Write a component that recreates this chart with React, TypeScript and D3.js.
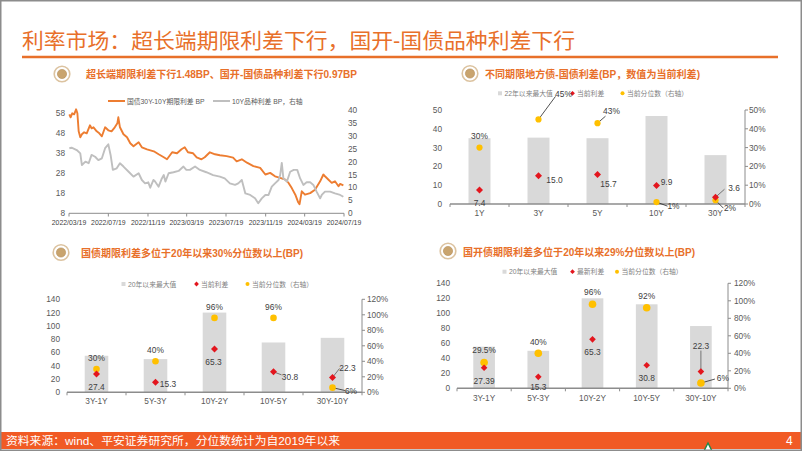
import React from 'react';
import * as d3 from 'd3';

// ---------------- Data ----------------
// Top-left: 国债30Y-10Y期限利差 (left axis) and 10Y品种利差 (right axis)
const termDates = ['2022-03-20','2022-03-24','2022-03-29','2022-04-04','2022-04-10','2022-04-14','2022-04-18','2022-04-23','2022-04-28','2022-05-05','2022-05-13','2022-05-23','2022-05-28','2022-06-03','2022-06-13','2022-06-21','2022-06-29','2022-07-09','2022-07-19','2022-07-29','2022-08-08','2022-08-16','2022-08-19','2022-08-24','2022-09-04','2022-09-15','2022-09-25','2022-10-05','2022-10-21','2022-10-31','2022-11-16','2022-12-07','2022-12-22','2023-01-07','2023-01-17','2023-02-02','2023-02-17','2023-03-03','2023-03-13','2023-03-23','2023-04-08','2023-04-19','2023-05-04','2023-05-14','2023-05-30','2023-06-15','2023-06-30','2023-07-21','2023-08-10','2023-08-21','2023-09-06','2023-09-22','2023-10-12','2023-11-02','2023-11-18','2023-12-03','2023-12-18','2024-01-03','2024-01-19','2024-01-29','2024-02-08','2024-02-19','2024-02-28','2024-03-03','2024-03-10','2024-03-20','2024-04-05','2024-04-20','2024-05-06','2024-05-16','2024-05-21','2024-06-01','2024-06-11','2024-06-21','2024-07-02','2024-07-07','2024-07-17'];
const termSpread = [57.5,56,58,57.5,60,58,49,46,47.5,48.5,48,52,50.5,51,49,48,46.5,51,49.5,49,51,53,56,51,47.5,46,43,41.5,43.5,41,40,39,37.5,36,35,38.5,38,40,41,38.5,38,36,35,36,38.5,37.5,37,36.6,35.8,34,35,33.3,31.6,30.7,27.4,28.2,26.5,25.7,24.8,23.2,20.6,17.3,13.5,12.5,19,17.3,18.1,19.8,24,27.4,26.5,24.8,23.2,24,21.5,22.7,22];

const varietyDates = ['2022-03-20','2022-03-27','2022-04-12','2022-04-23','2022-04-28','2022-05-09','2022-05-19','2022-05-28','2022-06-08','2022-06-18','2022-06-29','2022-07-09','2022-07-19','2022-07-26','2022-08-02','2022-08-14','2022-08-24','2022-09-04','2022-09-20','2022-10-05','2022-10-21','2022-10-31','2022-11-10','2022-11-20','2022-11-26','2022-12-06','2022-12-11','2022-12-22','2023-01-01','2023-01-07','2023-01-12','2023-01-22','2023-02-06','2023-02-22','2023-03-09','2023-03-18','2023-03-29','2023-04-14','2023-04-29','2023-05-19','2023-06-09','2023-06-30','2023-07-15','2023-07-31','2023-08-16','2023-08-26','2023-09-06','2023-09-17','2023-10-02','2023-10-17','2023-10-27','2023-11-07','2023-11-18','2023-11-28','2023-12-08','2023-12-18','2023-12-29','2024-01-03','2024-01-08','2024-01-13','2024-01-24','2024-02-03','2024-02-14','2024-02-25','2024-03-05','2024-03-15','2024-03-25','2024-04-05','2024-04-15','2024-04-25','2024-05-06','2024-05-11','2024-05-21','2024-06-06','2024-06-21','2024-07-07','2024-07-17'];
const varietySpread = [25.2,25.4,24.5,23.2,18.7,20,19.4,22.6,21.9,20.6,21.3,25.2,26.7,22.6,16.8,17.4,19.4,18.1,16.1,14.2,15.5,12.9,11.6,12,9.9,12.9,12.3,10.3,13.5,14.8,12.3,15.5,15.9,16.4,18.1,16.8,16.8,18.1,16.8,15.9,14.8,14.2,13.5,11.6,11,11.6,12.9,7.7,7.1,5.8,3.9,5.8,7.1,7.1,10.3,11.6,12.9,14.8,19.5,13.5,12.3,16.1,16.8,16.8,13.5,11,12,12,11,8.4,5.8,7.1,8.4,8.4,7.7,7.1,6.4];

const tlDateTicks = ['2022/03/19','2022/07/19','2022/11/19','2023/03/19','2023/07/19','2023/11/19','2024/03/19','2024/07/19'];
const tlLeftTicks = [8, 18, 28, 38, 48, 58];
const tlRightTicks = [0, 5, 10, 15, 20, 25, 30, 35, 40];

// Top-right: 地方债-国债利差
const lgCats = ['1Y', '3Y', '5Y', '10Y', '30Y'];
const lgMax = [35, 35.3, 35, 46.8, 26];
const lgCur = [7.4, 15.0, 15.7, 9.9, 3.6];
const lgPct = [30, 45, 43, 1, 2];

// Bottom-left: 国债期限利差
const tbCats = ['3Y-1Y', '5Y-3Y', '10Y-2Y', '10Y-5Y', '30Y-10Y'];
const tbMax = [55, 50, 120, 75, 82];
const tbCur = [27.4, 15.3, 65.3, 30.8, 22.3];
const tbPct = [30, 40, 96, 96, 6];

// Bottom-right: 国开债期限利差
const cdbCats = ['3Y-1Y', '5Y-3Y', '10Y-2Y', '10Y-5Y', '30Y-10Y'];
const cdbMax = [55.5, 50, 120, 112, 83];
const cdbCur = [27.39, 15.3, 65.3, 30.8, 22.3];
const cdbPct = [29.5, 40, 96, 92, 6];

// ---------------- Styles ----------------
const ORANGE = '#E8702A';
const LINE_OR = '#ED7D31';
const LINE_GR = '#BFBFBF';
const BAR = '#D9D9D9';
const RED = '#E3161E';
const YEL = '#FFC000';
const AX = '#8C8C8C';
const TXT = '#595959';
const LBL = '#404040';
const NUMF = "'Liberation Sans', Arial, 'Noto Sans CJK SC', sans-serif";
const CJKF = "'Liberation Sans', 'Noto Sans CJK SC', sans-serif";

const parse = d3.timeParse('%Y-%m-%d');
const parseTick = d3.timeParse('%Y/%m/%d');

type Lab = { dx: number; dy: number; lead?: [number, number] };

function Icon({ x, y }: { x: number; y: number }) {
  return (
    <g transform={`translate(${x},${y})`}>
      <circle r={7.8} fill="none" stroke="#DCC3A0" strokeWidth={1.6} />
      <circle r={4.6} fill="#C9A46E" stroke="#B48C55" strokeWidth={0.6} />
    </g>
  );
}

function LineChart() {
  const x = d3.scaleTime().domain([parse('2022-03-19')!, parse('2024-07-19')!]).range([69, 344]);
  const yL = d3.scaleLinear().domain([8, 60]).range([213.3, 109.3]);
  const yR = d3.scaleLinear().domain([0, 40]).range([213.3, 110]);
  const term = termDates.map((d, i) => ({ d: parse(d)!, v: termSpread[i] }));
  const vari = varietyDates.map((d, i) => ({ d: parse(d)!, v: varietySpread[i] }));
  const lineL = d3.line<{ d: Date; v: number }>().x(p => x(p.d)).y(p => yL(p.v));
  const lineR = d3.line<{ d: Date; v: number }>().x(p => x(p.d)).y(p => yR(p.v));
  return (
    <g>
      <Icon x={62} y={74} />
      <text x={86} y={74} dominantBaseline="central" fontSize={10.5} fontWeight={700} fill={ORANGE} fontFamily={CJKF} textLength={271} lengthAdjust="spacingAndGlyphs">超长端期限利差下行1.48BP、国开-国债品种利差下行0.97BP</text>
      {/* legend */}
      <line x1={108} x2={125} y1={101} y2={101} stroke={LINE_OR} strokeWidth={2} />
      <text x={127} y={101} dominantBaseline="central" fontSize={6.8} fill={TXT} fontFamily={CJKF}>国债30Y-10Y期限利差 BP</text>
      <line x1={213} x2={230} y1={101} y2={101} stroke={LINE_GR} strokeWidth={2} />
      <text x={232} y={101} dominantBaseline="central" fontSize={6.8} fill={TXT} fontFamily={CJKF}>10Y品种利差 BP，右轴</text>
      {tlLeftTicks.map(t => (
        <text key={'l' + t} x={65} y={yL(t)} textAnchor="end" dominantBaseline="central" fontSize={8.3} fill={TXT} fontFamily={NUMF}>{t}</text>
      ))}
      {tlRightTicks.map(t => (
        <text key={'r' + t} x={348} y={yR(t)} dominantBaseline="central" fontSize={8.3} fill={TXT} fontFamily={NUMF}>{t}</text>
      ))}
      <path d={lineL(term) || ''} fill="none" stroke={LINE_OR} strokeWidth={1.9} strokeLinejoin="round" />
      <path d={lineR(vari) || ''} fill="none" stroke={LINE_GR} strokeWidth={1.9} strokeLinejoin="round" />
      <line x1={69} x2={344} y1={213.3} y2={213.3} stroke={AX} strokeWidth={1} />
      {tlDateTicks.map(t => {
        const xx = x(parseTick(t)!);
        return (
          <g key={t}>
            <line x1={xx} x2={xx} y1={213.3} y2={216.5} stroke={AX} strokeWidth={1} />
            <text x={xx} y={222.5} textAnchor="middle" dominantBaseline="central" fontSize={6.9} fill={LBL} fontFamily={NUMF}>{t}</text>
          </g>
        );
      })}
    </g>
  );
}

type PanelProps = {
  cats: string[]; maxV: number[]; cur: number[]; pct: number[];
  x0: number; x1: number; yBase: number; yTop: number;
  leftMax: number; leftStep: number; rightMax: number; rightStep: number;
  pad: number; leftLabelX: number; rightLabelX: number; catLabelY: number;
  curFmt: (v: number) => string; curLabs: Lab[]; pctLabs: Lab[];
  dotR: number; diaR: number;
  legendY: number; legend: { x: number; text: string; kind: 'bar' | 'red' | 'yel' }[];
};

function Marker({ kind, x, y }: { kind: string; x: number; y: number }) {
  if (kind === 'bar') return <rect x={x - 2} y={y - 2} width={4} height={4} fill={BAR} />;
  if (kind === 'red') return <path d={`M${x},${y - 2.4}L${x + 2.4},${y}L${x},${y + 2.4}L${x - 2.4},${y}Z`} fill={RED} />;
  return <circle cx={x} cy={y} r={2} fill={YEL} />;
}

function BarPanel(p: PanelProps) {
  const band = d3.scaleBand().domain(p.cats).range([p.x0, p.x1]).paddingInner(p.pad).paddingOuter(p.pad / 2);
  const step = band.step();
  const yL = d3.scaleLinear().domain([0, p.leftMax]).range([p.yBase, p.yTop]);
  const yR = d3.scaleLinear().domain([0, p.rightMax]).range([p.yBase, p.yTop]);
  const cx = (c: string) => (band(c) || 0) + band.bandwidth() / 2;
  const lt = d3.range(0, p.leftMax + 0.001, p.leftStep);
  const rt = d3.range(0, p.rightMax + 0.001, p.rightStep);
  const d = p.diaR;
  return (
    <g>
      {p.legend.map((l, i) => (
        <g key={i}>
          <Marker kind={l.kind} x={l.x} y={p.legendY} />
          <text x={l.x + 4.5} y={p.legendY} dominantBaseline="central" fontSize={6.8} fill="#7F7F7F" fontFamily={CJKF}>{l.text}</text>
        </g>
      ))}
      {lt.map(t => (
        <text key={'l' + t} x={p.leftLabelX} y={yL(t)} textAnchor="end" dominantBaseline="central" fontSize={8.3} fill={TXT} fontFamily={NUMF}>{t}</text>
      ))}
      {rt.map(t => (
        <g key={'r' + t}>
          <line x1={p.x1} x2={p.x1 + 3} y1={yR(t)} y2={yR(t)} stroke={AX} strokeWidth={1} />
          <text x={p.rightLabelX} y={yR(t)} dominantBaseline="central" fontSize={8.3} fill={TXT} fontFamily={NUMF}>{t + '%'}</text>
        </g>
      ))}
      <line x1={p.x1} x2={p.x1} y1={p.yTop} y2={p.yBase} stroke={AX} strokeWidth={1} />
      {p.cats.map((c, i) => (
        <rect key={c} x={band(c)} y={yL(p.maxV[i])} width={band.bandwidth()} height={p.yBase - yL(p.maxV[i])} fill={BAR} />
      ))}
      <line x1={p.x0} x2={p.x1} y1={p.yBase} y2={p.yBase} stroke={AX} strokeWidth={1.4} />
      {d3.range(0, p.cats.length + 1).map(i => (
        <line key={'t' + i} x1={p.x0 + i * step} x2={p.x0 + i * step} y1={p.yBase} y2={p.yBase + 3} stroke={AX} strokeWidth={1} />
      ))}
      {p.cats.map(c => (
        <text key={'c' + c} x={cx(c)} y={p.catLabelY} textAnchor="middle" dominantBaseline="central" fontSize={8.3} fill={TXT} fontFamily={NUMF}>{c}</text>
      ))}
      {/* leader lines */}
      {p.cats.map((c, i) => {
        const out = [];
        const lc = p.curLabs[i], lp = p.pctLabs[i];
        if (lc.lead) out.push(<line key={'lc' + c} x1={cx(c)} y1={yL(p.cur[i])} x2={cx(c) + lc.lead[0]} y2={yL(p.cur[i]) + lc.lead[1]} stroke="#595959" strokeWidth={0.8} />);
        if (lp.lead) out.push(<line key={'lp' + c} x1={cx(c)} y1={yR(p.pct[i])} x2={cx(c) + lp.lead[0]} y2={yR(p.pct[i]) + lp.lead[1]} stroke="#262626" strokeWidth={0.8} />);
        return out;
      })}
      {p.cats.map((c, i) => (
        <circle key={'y' + c} cx={cx(c)} cy={yR(p.pct[i])} r={p.dotR} fill={YEL} />
      ))}
      {p.cats.map((c, i) => {
        const X = cx(c), Y = yL(p.cur[i]);
        return <path key={'d' + c} d={`M${X},${Y - d}L${X + d},${Y}L${X},${Y + d}L${X - d},${Y}Z`} fill={RED} />;
      })}
      {p.cats.map((c, i) => (
        <text key={'tc' + c} x={cx(c) + p.curLabs[i].dx} y={yL(p.cur[i]) + p.curLabs[i].dy} textAnchor="middle" dominantBaseline="central" fontSize={8.4} fill={LBL} fontFamily={NUMF}>{p.curFmt(p.cur[i])}</text>
      ))}
      {p.cats.map((c, i) => (
        <text key={'tp' + c} x={cx(c) + p.pctLabs[i].dx} y={yR(p.pct[i]) + p.pctLabs[i].dy} textAnchor="middle" dominantBaseline="central" fontSize={8.4} fill={LBL} fontFamily={NUMF}>{p.pct[i] + '%'}</text>
      ))}
    </g>
  );
}

export default function App() {
  const f1 = d3.format('.1f');
  const plain = (v: number) => String(v);
  return (
    <svg width={802} height={451} viewBox="0 0 802 451" style={{ position: 'absolute', left: 0, top: 0, background: '#fff' }}>
      <rect x={0} y={0} width={802} height={451} fill="#fff" />
      {/* main title */}
      <text x={22} y={40} dominantBaseline="central" fontSize={21} fill={ORANGE} fontFamily={CJKF} textLength={553} lengthAdjust="spacingAndGlyphs">利率市场：超长端期限利差下行，国开-国债品种利差下行</text>
      <line x1={22} x2={778} y1={57} y2={57} stroke={ORANGE} strokeWidth={2.4} />

      <LineChart />

      {/* top-right */}
      <Icon x={470} y={73.5} />
      <text x={485} y={73.5} dominantBaseline="central" fontSize={10.5} fontWeight={700} fill={ORANGE} fontFamily={CJKF} textLength={215} lengthAdjust="spacingAndGlyphs">不同期限地方债-国债利差(BP，数值为当前利差)</text>
      <BarPanel
        cats={lgCats} maxV={lgMax} cur={lgCur} pct={lgPct}
        x0={450} x1={745} yBase={204} yTop={110}
        leftMax={50} leftStep={10} rightMax={50} rightStep={10}
        pad={0.627} leftLabelX={442} rightLabelX={749} catLabelY={212.7}
        curFmt={f1}
        curLabs={[{ dx: 0, dy: 13 }, { dx: 16, dy: 4 }, { dx: 11, dy: 9.5 }, { dx: 10, dy: -3 }, { dx: 18.5, dy: -9.5, lead: [9, -8] }]}
        pctLabs={[{ dx: 0, dy: -12 }, { dx: 25, dy: -25, lead: [17, -23] }, { dx: 14, dy: -12, lead: [8, -7] }, { dx: 17, dy: 4, lead: [11, 4] }, { dx: 14.5, dy: 8, lead: [8, 8] }]}
        dotR={3.1} diaR={3.5}
        legendY={93.3}
        legend={[{ x: 500, text: '22年以来最大值', kind: 'bar' }, { x: 572.5, text: '当前利差', kind: 'red' }, { x: 622.5, text: '当前分位数（右轴）', kind: 'yel' }]}
      />

      {/* bottom-left */}
      <Icon x={61} y={252.5} />
      <text x={81} y={253} dominantBaseline="central" fontSize={10.5} fontWeight={700} fill={ORANGE} fontFamily={CJKF} textLength={222} lengthAdjust="spacingAndGlyphs">国债期限利差多位于20年以来30%分位数以上(BP)</text>
      <BarPanel
        cats={tbCats} maxV={tbMax} cur={tbCur} pct={tbPct}
        x0={67} x1={362} yBase={392.3} yTop={299.3}
        leftMax={140} leftStep={20} rightMax={120} rightStep={20}
        pad={0.6} leftLabelX={60} rightLabelX={367} catLabelY={400.7}
        curFmt={plain}
        curLabs={[{ dx: 0, dy: 13 }, { dx: 12.5, dy: 2 }, { dx: -1, dy: 13 }, { dx: 16.5, dy: 5, lead: [8, 3] }, { dx: 15, dy: -9, lead: [7, -9] }]}
        pctLabs={[{ dx: 0, dy: -11 }, { dx: 0, dy: -11 }, { dx: 0, dy: -11 }, { dx: 0, dy: -11 }, { dx: 18.5, dy: 3, lead: [13, 3] }]}
        dotR={3.3} diaR={3.5}
        legendY={284}
        legend={[{ x: 123.5, text: '20年以来最大值', kind: 'bar' }, { x: 196.5, text: '当前利差', kind: 'red' }, { x: 247.5, text: '当前分位数（右轴）', kind: 'yel' }]}
      />

      {/* bottom-right */}
      <Icon x={448} y={251} />
      <text x={463} y={251.5} dominantBaseline="central" fontSize={10.5} fontWeight={700} fill={ORANGE} fontFamily={CJKF} textLength={232} lengthAdjust="spacingAndGlyphs">国开债期限利差多位于20年以来29%分位数以上(BP)</text>
      <BarPanel
        cats={cdbCats} maxV={cdbMax} cur={cdbCur} pct={cdbPct}
        x0={457} x1={728} yBase={388.3} yTop={283.3}
        leftMax={140} leftStep={20} rightMax={120} rightStep={20}
        pad={0.6} leftLabelX={450} rightLabelX={734} catLabelY={397.5}
        curFmt={plain}
        curLabs={[{ dx: 0, dy: 13 }, { dx: 0, dy: 10.5 }, { dx: 0, dy: 13 }, { dx: 0, dy: 12.5 }, { dx: 0, dy: -26, lead: [0, -21] }]}
        pctLabs={[{ dx: 0, dy: -12 }, { dx: 0, dy: -11.6 }, { dx: 0, dy: -12 }, { dx: 0, dy: -12 }, { dx: 22, dy: -5, lead: [14, -4] }]}
        dotR={3.8} diaR={3.3}
        legendY={271.7}
        legend={[{ x: 504.5, text: '20年以来最大值', kind: 'bar' }, { x: 572.5, text: '最新利差', kind: 'red' }, { x: 617, text: '当前分位数（右轴）', kind: 'yel' }]}
      />

      {/* footer */}
      <rect x={0} y={432} width={802} height={17} fill="#F15A24" />
      <text x={6} y={440.5} dominantBaseline="central" fontSize={11} fill="#fff" fontFamily={CJKF} textLength={334} lengthAdjust="spacingAndGlyphs">资料来源：wind、平安证券研究所，分位数统计为自2019年以来</text>
      <text x={786} y={440.5} dominantBaseline="central" fontSize={12} fill="#fff" fontFamily={NUMF}>4</text>
      <path d="M708,443 L712,451 L704,451 Z" fill="#fff" stroke="#1E8A4C" strokeWidth={1.4} />
      {/* frame */}
      <rect x={0.75} y={0.75} width={800.5} height={449.5} fill="none" stroke="#8C8C8C" strokeWidth={1.5} />
    </svg>
  );
}
